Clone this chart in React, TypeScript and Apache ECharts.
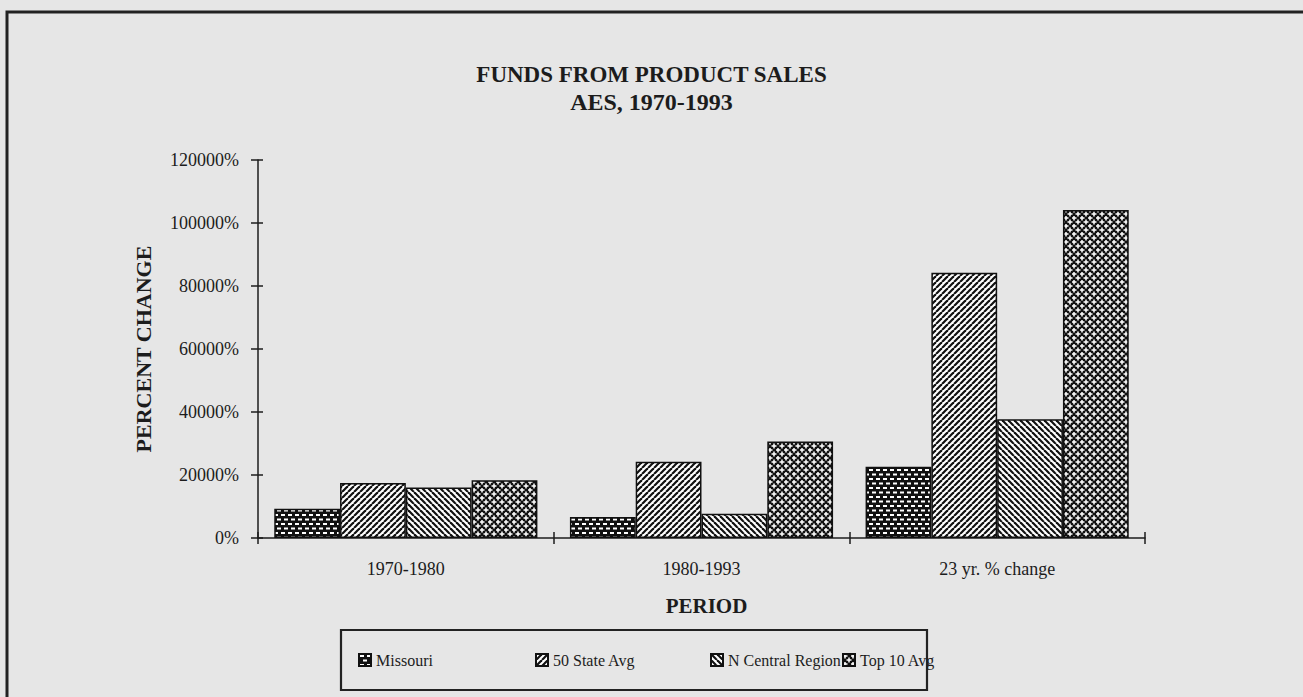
import React, { useEffect, useRef } from "react";
import * as echarts from "echarts";

const categories = ["1970-1980", "1980-1993", "23 yr. % change"];
const seriesNames = ["Missouri", "50 State Avg", "N Central Region", "Top 10 Avg"];
const missouri = [9300, 6700, 22600];
const stateAvg = [17500, 24200, 84200];
const nCentral = [16000, 7700, 37700];
const top10 = [18300, 30600, 104100];
const yTicks = { min: 0, max: 120000, interval: 20000 };
const legendX = [358, 535, 710, 842];

const FONT = "'Liberation Serif', 'Times New Roman', serif";
const INK = "#1c1c1c";

function makeTile(w: number, h: number, draw: (c: CanvasRenderingContext2D) => void) {
  const cv = document.createElement("canvas");
  cv.width = w;
  cv.height = h;
  const ctx = cv.getContext("2d")!;
  draw(ctx);
  return { image: cv, repeat: "repeat", imageWidth: w, imageHeight: h } as any;
}

function patterns() {
  const brick = makeTile(7, 9, (c) => {
    c.fillStyle = "#111";
    c.fillRect(0, 0, 7, 9);
    c.fillStyle = "#fff";
    c.fillRect(1, 1, 4, 2);
    c.fillRect(4, 5.5, 3, 2);
    c.fillRect(0, 5.5, 1, 2);
  });
  const diagUp = makeTile(6, 6, (c) => {
    c.fillStyle = "#fff";
    c.fillRect(0, 0, 6, 6);
    c.strokeStyle = "#111";
    c.lineWidth = 2.2;
    for (const o of [-6, 0, 6]) {
      c.beginPath();
      c.moveTo(o, 6);
      c.lineTo(o + 6, 0);
      c.stroke();
    }
  });
  const diagDown = makeTile(6, 6, (c) => {
    c.fillStyle = "#fff";
    c.fillRect(0, 0, 6, 6);
    c.strokeStyle = "#111";
    c.lineWidth = 2.2;
    for (const o of [-6, 0, 6]) {
      c.beginPath();
      c.moveTo(o, 0);
      c.lineTo(o + 6, 6);
      c.stroke();
    }
  });
  const cross = makeTile(8, 8, (c) => {
    c.fillStyle = "#111";
    c.fillRect(0, 0, 8, 8);
    c.fillStyle = "#fff";
    for (const [x, y] of [[2, 2], [6, 6]]) {
      c.fillRect(x - 2.5, y - 0.75, 5, 1.5);
      c.fillRect(x - 0.75, y - 2.5, 1.5, 5);
    }
    c.fillRect(0, 6 - 0.75, 0.5, 1.5);
    c.fillRect(6 - 0.75, 0, 1.5, 0.5);
  });
  return [brick, diagUp, diagDown, cross];
}

export default function App() {
  const ref = useRef<HTMLDivElement>(null);
  useEffect(() => {
    if (!ref.current) return;
    const chart = echarts.init(ref.current, null, { renderer: "svg" });
    const pats = patterns();
    const values = [missouri, stateAvg, nCentral, top10];
    const baseText = { fontFamily: FONT, color: INK };
    const option: any = {
      animation: false,
      backgroundColor: "#e6e6e6",
      title: [
        {
          text: "FUNDS FROM PRODUCT SALES",
          left: "center",
          top: 63,
          padding: 0,
          textStyle: { ...baseText, fontSize: 23, fontWeight: "bold" },
        },
        {
          text: "AES, 1970-1993",
          left: "center",
          top: 90,
          padding: 0,
          textStyle: { ...baseText, fontSize: 24, fontWeight: "bold" },
        },
      ],
      legend: seriesNames.map((n, i) => ({
        data: [n],
        left: legendX[i],
        top: 652,
        padding: 0,
        itemWidth: 12,
        itemHeight: 12,
        itemGap: 0,
        icon: "rect",
        selectedMode: false,
        textStyle: { ...baseText, fontSize: 16 },
      })),
      grid: { left: 258, right: 158, top: 160, bottom: 159, containLabel: false },
      xAxis: [
        {
          type: "category",
          data: categories,
          position: "bottom",
          axisLine: { lineStyle: { color: INK, width: 1.5 } },
          axisTick: { show: true, length: 6, lineStyle: { color: INK, width: 1.5 } },
          axisLabel: { ...baseText, fontSize: 18, margin: 22 },
          name: "PERIOD",
          nameLocation: "middle",
          nameGap: 57,
          nameTextStyle: { ...baseText, fontSize: 21, fontWeight: "bold", padding: [0, 0, 0, 10] },
          splitLine: { show: false },
        },
        {
          type: "category",
          data: categories,
          position: "bottom",
          axisLine: { show: false },
          axisTick: { show: true, inside: true, length: 6, lineStyle: { color: INK, width: 1.5 } },
          axisLabel: { show: false },
          splitLine: { show: false },
        },
      ],
      yAxis: [
        {
          type: "value",
          ...yTicks,
          axisLine: { show: true, lineStyle: { color: INK, width: 1.5 } },
          axisTick: { show: true, length: 7, lineStyle: { color: INK, width: 1.5 } },
          axisLabel: {
            ...baseText,
            fontSize: 18,
            margin: 19,
            formatter: (v: number) => String(v) + "%",
          },
          splitLine: { show: false },
          name: "PERCENT CHANGE",
          nameLocation: "middle",
          nameRotate: 90,
          nameGap: 104,
          nameTextStyle: { ...baseText, fontSize: 22, fontWeight: "bold" },
        },
        {
          type: "value",
          ...yTicks,
          position: "left",
          axisLine: { show: false },
          axisTick: { show: true, inside: true, length: 5, lineStyle: { color: INK, width: 1.5 } },
          axisLabel: { show: false },
          splitLine: { show: false },
        },
      ],
      series: seriesNames.map((n, i) => ({
        name: n,
        type: "bar",
        xAxisIndex: 0,
        yAxisIndex: 0,
        data: values[i],
        barGap: "0%",
        barCategoryGap: "11%",
        itemStyle: { color: pats[i], borderColor: "#111", borderWidth: 1.5 },
      })),
      graphic: [
        {
          type: "rect",
          shape: { x: 7, y: 12, width: 1330, height: 730 },
          style: { fill: "none", stroke: "#222", lineWidth: 3 },
          z: -1,
          silent: true,
        },
        {
          type: "rect",
          shape: { x: 341, y: 630, width: 586, height: 60 },
          style: { fill: "none", stroke: "#222", lineWidth: 2.2 },
          silent: true,
        },
      ],
    };
    chart.setOption(option);
    return () => chart.dispose();
  }, []);
  return (
    <div
      ref={ref}
      style={{ position: "fixed", left: 0, top: 0, width: 1303, height: 697 }}
    />
  );
}
